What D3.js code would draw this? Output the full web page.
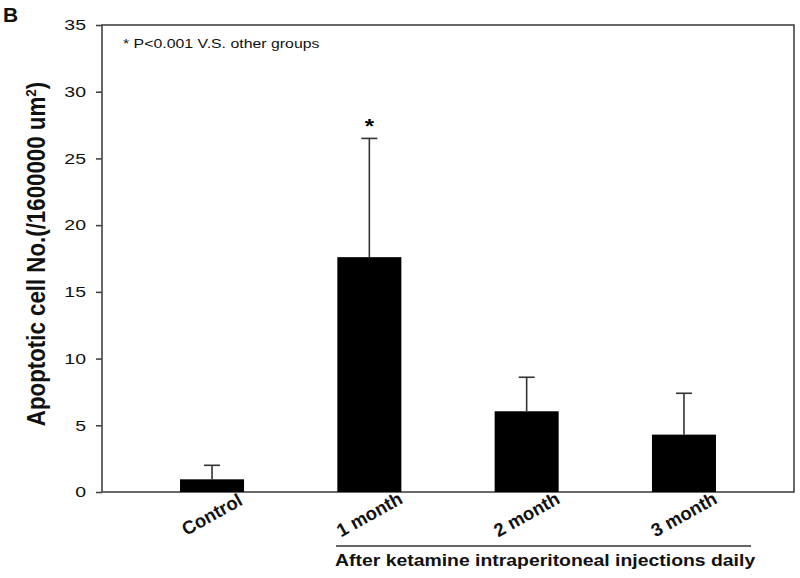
<!DOCTYPE html>
<html><head><meta charset="utf-8">
<script src="https://cdn.jsdelivr.net/npm/d3@7"></script>
<style>body{margin:0;background:#fff;} text{font-family:"Liberation Sans",Arial,sans-serif;}</style>
</head><body>
<svg id="c" width="800" height="578"></svg>
<script>
const categories = ["Control", "1 month", "2 month", "3 month"];
const means = [0.95, 17.6, 6.05, 4.3];
const errors = [1.05, 8.9, 2.55, 3.1];
const yTicks = [0, 5, 10, 15, 20, 25, 30, 35];
const significance = ["", "*", "", ""];

const svg = d3.select("#c");
const L = 102, R = 794, T = 25, B = 492;
const SX = 1.2; // horizontal stretch of the reference figure
const x = d3.scaleBand().domain(categories).range([L, R]).paddingInner(0.593).paddingOuter(0.496);
const y = d3.scaleLinear().domain([0, 35]).range([B, T]);

// frame
svg.append("rect").attr("x", L).attr("y", T).attr("width", R - L).attr("height", B - T)
  .attr("fill", "none").attr("stroke", "#444").attr("stroke-width", 1.6);

// bars
svg.selectAll(".bar").data(categories).enter().append("rect")
  .attr("x", d => x(d)).attr("y", (d, i) => y(means[i]))
  .attr("width", x.bandwidth()).attr("height", (d, i) => B - y(means[i]))
  .attr("fill", "#000");

// error bars
const eg = svg.append("g").attr("stroke", "#333").attr("stroke-width", 1.6);
categories.forEach((c, i) => {
  const cx = x(c) + x.bandwidth() / 2;
  eg.append("line").attr("x1", cx).attr("x2", cx).attr("y1", y(means[i])).attr("y2", y(means[i] + errors[i]));
  eg.append("line").attr("x1", cx - 8).attr("x2", cx + 8).attr("y1", y(means[i] + errors[i])).attr("y2", y(means[i] + errors[i]));
  if (significance[i]) {
    svg.append("text").attr("transform", `translate(${cx},${y(means[i] + errors[i]) - 5}) scale(${SX},1)`)
      .attr("text-anchor", "middle").attr("font-size", 20).attr("font-weight", "bold").text(significance[i]);
  }
});

// y axis
const yAxis = d3.axisLeft(y).tickValues(yTicks).tickSize(6).tickSizeOuter(0).tickPadding(10);
const ga = svg.append("g").attr("transform", `translate(${L},0)`).call(yAxis);
ga.select(".domain").remove();
ga.selectAll(".tick line").attr("stroke", "#444").attr("stroke-width", 1.6);
ga.selectAll(".tick text").attr("font-size", 15).attr("fill", "#111")
  .attr("x", -16 / 1.3).attr("transform", "scale(1.3,1)")
  .style("font-family", "'Liberation Sans', Arial, sans-serif");

// x labels
categories.forEach(c => {
  const cx = x(c) + x.bandwidth() / 2;
  svg.append("text").attr("transform", `translate(${cx + 3},${520}) rotate(-29)`)
    .attr("text-anchor", "middle").attr("font-size", 18.5).attr("font-weight", "bold").attr("fill", "#111").text(c);
});

// bracket
svg.append("line").attr("x1", 336).attr("x2", 751).attr("y1", 546).attr("y2", 546)
  .attr("stroke", "#333").attr("stroke-width", 1.6);
svg.append("text").attr("transform", `translate(335,566) scale(1.19,1)`).attr("font-size", 16.3).attr("font-weight", "bold")
  .attr("fill", "#111").text("After ketamine intraperitoneal injections daily");

// y title
const yt = svg.append("text").attr("transform", "translate(45,254) rotate(-90) scale(1,1.12)")
  .attr("text-anchor", "middle").attr("font-size", 22.3).attr("font-weight", "bold").attr("fill", "#111");
yt.append("tspan").text("Apoptotic cell No.(/1600000 um");
yt.append("tspan").attr("font-size", 13.5).attr("dy", -8).text("2");
yt.append("tspan").attr("dy", 8).text(")");

// annotation
svg.append("text").attr("transform", "translate(123,48) scale(1.22,1)").attr("font-size", 13).attr("fill", "#111")
  .text("* P<0.001 V.S. other groups");

// panel letter
svg.append("text").attr("x", 3).attr("y", 22).attr("font-size", 21).attr("font-weight", "bold")
  .attr("fill", "#111").text("B");
</script>
</body></html>
